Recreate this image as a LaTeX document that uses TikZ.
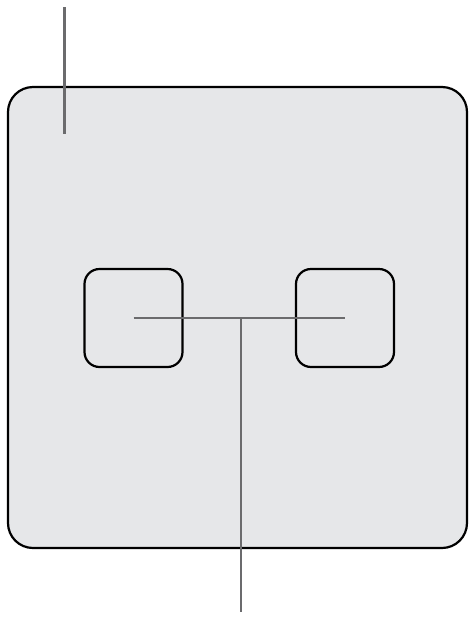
\documentclass[tikz,border=0pt]{standalone}
\usepackage{tikz}
\usetikzlibrary{positioning}
\definecolor{panel}{HTML}{E6E7E9}
\definecolor{wire}{HTML}{6B6B6D}
\tikzset{
  panelbox/.style={draw=black,fill=panel,line width=2.2pt,rounded corners=25pt,inner sep=0pt,minimum width=459pt,minimum height=461pt},
  portbox/.style={draw=black,line width=2.2pt,rounded corners=15pt,inner sep=0pt,minimum width=98pt,minimum height=98pt},
  lead/.style={draw=wire,line width=2.2pt}
}
\begin{document}
\begin{tikzpicture}[x=1pt,y=-1pt]
  \useasboundingbox (0,0) rectangle (469,619);
  % frame and the two ports
  \node[panelbox] (frame) at (237.5,317.5) {};
  \node[portbox] (portl) at (133.5,318) {};
  \node[portbox] (portr) at (345,318) {};
  % leads
  \coordinate (topa) at (64.5,7);
  \coordinate (topb) at (64.5,134);
  \coordinate (join) at (241,318);
  \coordinate (foot) at (241,612);
  \draw[lead] (topa) -- (topb);
  \draw[lead] (portl.center) -- (portr.center);
  \draw[lead] (join) -- (foot);
\end{tikzpicture}
\end{document}
